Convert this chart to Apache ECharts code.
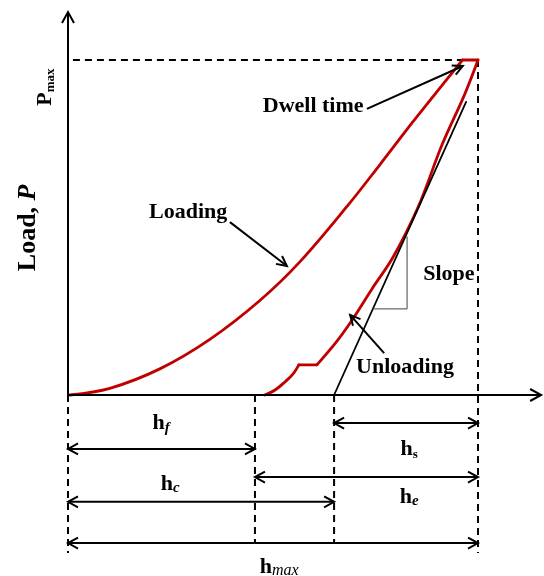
<!DOCTYPE html>
<html><head><meta charset="utf-8">
<script src="https://cdn.jsdelivr.net/npm/echarts@6/dist/echarts.min.js"></script>
<style>html,body{margin:0;padding:0;background:#fff}#c{width:544px;height:576px}</style>
</head><body><div id="c"></div>
<script>
// ---- Data (depth h, load P), in units where h_max = 10 and P_max = 10 ----
const H_MAX = 10, P_MAX = 10;
const H_F = 4.56;          // final depth
const H_TANGENT = 6.49;    // tangent intercept (start of h_s)
const loadingCurve = [[0.05,0],[1.02,0.2],[2.24,0.78],[3.46,1.66],[4.68,2.82],[5.66,3.98],[6.80,5.62],[7.61,6.88],[8.41,8.15],[9.24,9.42],[9.62,10]];
const dwellSegment = [[9.62,10],[10,10]];
const unloadingLower = [[4.80,0],[5.05,0.15],[5.29,0.39],[5.49,0.63],[5.63,0.90]];
const unloadingStep = [[5.63,0.90],[6.07,0.90]];
const unloadingUpper = [[6.07,0.90],[6.56,1.61],[6.93,2.24],[7.41,3.16],[7.93,4.12],[8.54,5.61],[9.12,7.46],[9.68,8.99],[10,10]];
const tangentLine = [[H_TANGENT,0],[9.71,8.75]];
const slopeTriangle = [[7.44,2.57],[8.27,2.57],[8.27,4.72]];

// ---- Layout of guides / annotations (same units) ----
// dashed guides: x1,y1,x2,y2
const dashedGuides = [
  [0.12,P_MAX,H_MAX,P_MAX],
  [H_MAX,P_MAX,H_MAX,-4.72],
  [0,0,0,-4.72],
  [H_F,0,H_F,-4.42],
  [H_TANGENT,0,H_TANGENT,-4.42]
];
// arrows: x1,y1,x2,y2, headAtStart, headAtEnd, headLength, headHalfWidth
const arrowLines = [
  [0,0,0,11.43, 0,1, 11,6],          // y axis
  [0,0,11.54,0, 0,1, 11,6],          // x axis
  [H_TANGENT,-0.836,H_MAX,-0.836, 1,1, 10,5.5],  // h_s
  [0,-1.61,H_F,-1.61, 1,1, 10,5.5],              // h_f
  [H_F,-2.45,H_MAX,-2.45, 1,1, 10,5.5],          // h_e
  [0,-3.19,H_TANGENT,-3.19, 1,1, 10,5.5],        // h_c
  [0,-4.42,H_MAX,-4.42, 1,1, 10,5.5],            // h_max
  [7.29,8.54,9.63,9.82, 0,1, 10,5],              // dwell time
  [3.95,5.16,5.34,3.85, 0,1, 10,5],              // loading
  [7.71,1.25,6.88,2.39, 0,1, 10,5]               // unloading
];
const SERIF = "'Liberation Serif','Times New Roman',serif";
const labelTexts = [
  {pos:[5.98,8.63], text:'Dwell time'},
  {pos:[2.93,5.46], text:'Loading'},
  {pos:[9.29,3.61], text:'Slope'},
  {pos:[8.22,0.84], text:'Unloading'},
  {pos:[2.27,-0.84], text:'{h|h}{si|f}'},
  {pos:[8.32,-1.61], text:'{h|h}{s|s}'},
  {pos:[2.49,-2.66], text:'{h|h}{si|c}'},
  {pos:[8.32,-3.04], text:'{h|h}{si|e}'},
  {pos:[5.15,-5.13], text:'{h|h}{sm|max}'},
  {pos:[-0.976,4.99], text:'{L|Load, }{Li|P}', rot:90},
  {pos:[-0.55,9.19], text:'{h|P}{s|max}', rot:90}
];

const RED = '#c00000';
const chart = echarts.init(document.getElementById('c'), null, {renderer:'canvas'});

function curve(name, data, color, width, smooth) {
  return {type:'line', name, data, smooth: smooth || false,
    showSymbol:false, symbol:'none',
    clip:false, silent:true, animation:false, z:3,
    lineStyle:{color, width, cap:'round', join:'round'}};
}

const richStyles = {
  h:{fontFamily:SERIF, fontWeight:'bold', fontSize:22, lineHeight:24},
  s:{fontFamily:SERIF, fontWeight:'bold', fontSize:13, lineHeight:14, verticalAlign:'bottom'},
  si:{fontFamily:SERIF, fontStyle:'italic', fontWeight:'bold', fontSize:15, lineHeight:15, verticalAlign:'bottom'},
  sm:{fontFamily:SERIF, fontStyle:'italic', fontSize:16, lineHeight:15, verticalAlign:'bottom'},
  L:{fontFamily:SERIF, fontWeight:'bold', fontSize:26, lineHeight:28},
  Li:{fontFamily:SERIF, fontWeight:'bold', fontStyle:'italic', fontSize:26, lineHeight:28}
};

const option = {
  backgroundColor:'#fff',
  animation:false,
  grid:{left:68, top:60, width:410, height:335},
  xAxis:{type:'value', min:0, max:H_MAX, show:false},
  yAxis:{type:'value', min:0, max:P_MAX, show:false},
  series:[
    curve('Loading', loadingCurve, RED, 2.8, 0.35),
    curve('Dwell', dwellSegment, RED, 2.8),
    curve('Unloading lower', unloadingLower, RED, 2.8, 0.35),
    curve('Unloading step', unloadingStep, RED, 2.8),
    curve('Unloading upper', unloadingUpper, RED, 2.8, 0.35),
    curve('Tangent', tangentLine, '#000', 1.8),
    curve('Slope triangle', slopeTriangle, '#444', 1),
    {
      type:'custom', name:'guides', data:dashedGuides, clip:false, silent:true, z:2,
      encode:{x:[0,2], y:[1,3]},
      renderItem(params, api){
        const a = api.coord([api.value(0), api.value(1)]);
        const b = api.coord([api.value(2), api.value(3)]);
        return {type:'line', shape:{x1:a[0],y1:a[1],x2:b[0],y2:b[1]},
          style:{stroke:'#000', lineWidth:2, lineDash:[7,5]}};
      }
    },
    {
      type:'custom', name:'arrows', data:arrowLines, clip:false, silent:true, z:4,
      encode:{x:[0,2], y:[1,3]},
      renderItem(params, api){
        const a = api.coord([api.value(0), api.value(1)]);
        const b = api.coord([api.value(2), api.value(3)]);
        const L = api.value(6), W = api.value(7);
        const dx=b[0]-a[0], dy=b[1]-a[1], len=Math.hypot(dx,dy);
        const ux=dx/len, uy=dy/len, nx=-uy, ny=ux;
        const st = {stroke:'#000', lineWidth:2, fill:null, lineJoin:'miter'};
        const children = [{type:'line', shape:{x1:a[0],y1:a[1],x2:b[0],y2:b[1]}, style:st}];
        if (api.value(5)) children.push({type:'polyline', shape:{points:[
          [b[0]-L*ux+W*nx, b[1]-L*uy+W*ny], [b[0],b[1]], [b[0]-L*ux-W*nx, b[1]-L*uy-W*ny]]}, style:st});
        if (api.value(4)) children.push({type:'polyline', shape:{points:[
          [a[0]+L*ux+W*nx, a[1]+L*uy+W*ny], [a[0],a[1]], [a[0]+L*ux-W*nx, a[1]+L*uy-W*ny]]}, style:st});
        return {type:'group', children};
      }
    },
    {
      type:'custom', name:'labels', data:labelTexts.map(d=>d.pos), clip:false, silent:true, z:5,
      encode:{x:0, y:1},
      renderItem(params, api){
        const item = labelTexts[params.dataIndex];
        const p = api.coord([api.value(0), api.value(1)]);
        const isRich = item.text.indexOf('{') >= 0;
        return {type:'text', x:p[0], y:p[1], rotation:(item.rot||0)*Math.PI/180,
          style:{text:item.text, align:'center', verticalAlign:'middle', fill:'#000',
            fontFamily:SERIF, fontWeight:'bold', fontSize:22,
            rich: isRich ? richStyles : undefined}};
      }
    }
  ]
};
chart.setOption(option);
</script></body></html>
